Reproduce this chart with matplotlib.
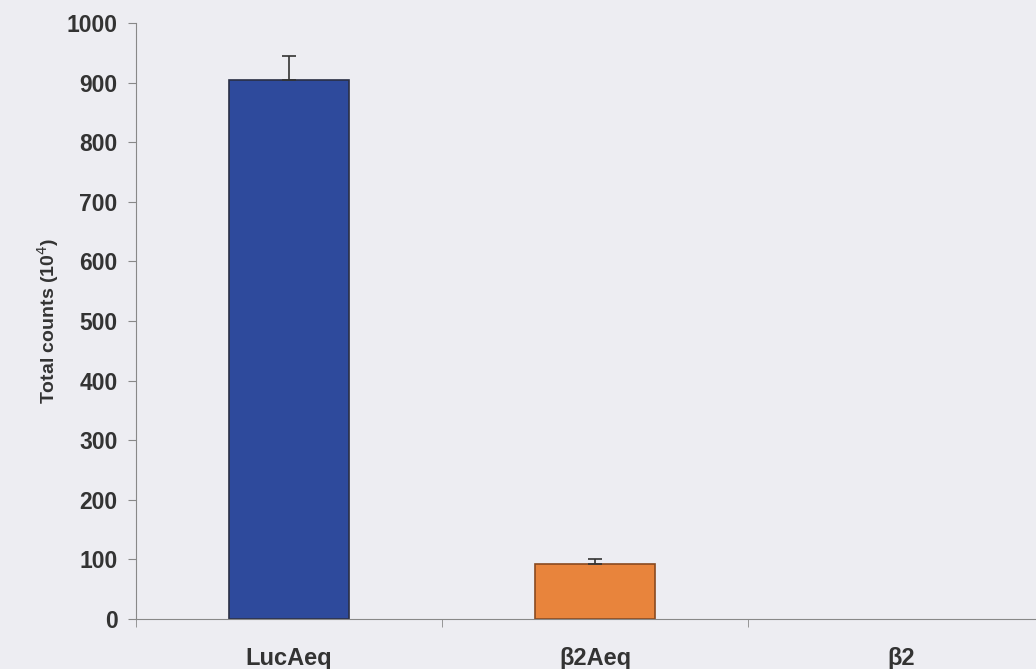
import matplotlib
matplotlib.use('Agg')
from matplotlib import pyplot as plt
import numpy as np

# Datos
categorias = ['LucAeq', 'β2Aeq', 'β2']
valores = [905, 92, 0]
errores = [40, 8, 0]
colores = ['#2E4A9C', '#E8843C', '#E8843C']
bordes = ['#2A2F45', '#8A4A20', 'none']

plt.rcParams['font.family'] = ['Liberation Sans', 'DejaVu Sans']

fig = plt.figure(figsize=(10.36, 6.69), dpi=100)
fondo = '#EDEDF2'
fig.patch.set_facecolor(fondo)
ax = fig.add_axes([0.131, 0.075, 0.869, 0.8906])
ax.set_facecolor(fondo)

x = np.arange(len(categorias))
ax.bar(x, valores, width=0.39, color=colores, edgecolor=bordes, linewidth=1.2)

# barras de error solo hacia arriba, y solo donde hay error
err = np.array(errores, dtype=float)
con_error = err > 0
ax.errorbar(x[con_error], np.array(valores)[con_error],
            yerr=[np.zeros(con_error.sum()), err[con_error]], fmt='none',
            ecolor='#333333', elinewidth=1.2, capsize=5, capthick=1.2)

ax.set_ylim(0, 1000)
ax.set_xlim(-0.5, 2.44)
ax.set_yticks(range(0, 1001, 100))
ax.set_xticks(x)
ax.set_xticklabels(categorias, fontsize=17, fontweight='bold', color='#333333')
ax.set_xticks([-0.5, 0.5, 1.5], minor=True)
ax.tick_params(axis='x', which='major', length=0, pad=20)
ax.tick_params(axis='x', which='minor', length=6, color='#888888')
ax.tick_params(axis='y', length=6, color='#888888', labelsize=16.5, labelcolor='#333333', pad=7)
for lbl in ax.get_yticklabels():
    lbl.set_fontweight('bold')
ax.set_ylabel('Total counts (10$^4$)', fontsize=14, fontweight='bold', color='#333333', labelpad=4)

for lado in ['top', 'right']:
    ax.spines[lado].set_visible(False)
ax.spines['left'].set_color('#888888')
ax.spines['bottom'].set_color('#888888')

plt.savefig('out.png', dpi=100, facecolor=fondo)
